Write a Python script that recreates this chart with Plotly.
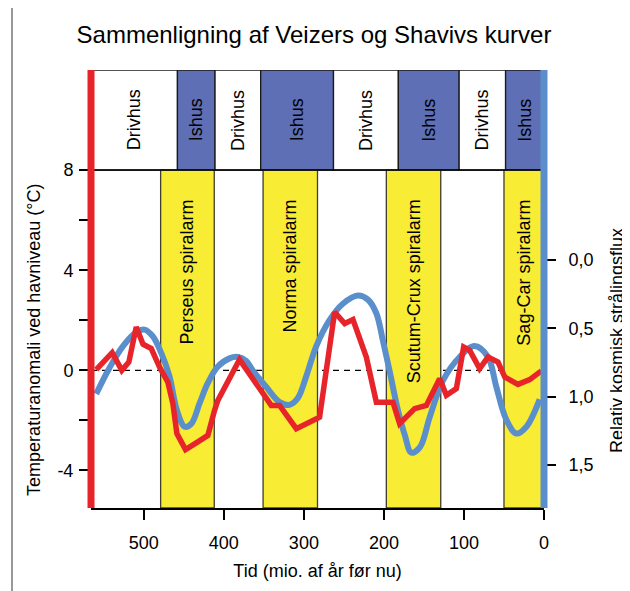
import plotly.graph_objects as go

# ---------------- data ----------------
# Temperature anomaly (Veizer), degrees C, vs time (Myr before present)
red_t = [559.5, 539.5, 527.5, 518.7, 509.5, 501, 490.7, 480.4, 470, 463.7, 458.7, 447.9,
         434.5, 420, 411.6, 407.5, 380.4, 340.8, 330.4, 309.5, 280.4, 261.6, 249, 238.7,
         222, 209.5, 188.7, 180.4, 161.6, 147, 130.4, 122, 109.5, 100.4, 92.9, 80.4, 70,
         57.5, 49, 32.5, 17.9, 3.3]
red_T = [0.03, 0.71, 0.0, 0.33, 1.73, 1.04, 0.87, 0.13, -0.47, -1.33, -2.53, -3.17,
         -2.9, -2.6, -1.6, -1.2, 0.43, -1.4, -1.4, -2.33, -1.87, 2.33, 1.87, 2.03,
         0.53, -1.27, -1.27, -2.13, -1.53, -1.4, -0.33, -1.0, -0.73, 0.93, 0.8, 0.07, 0.53,
         0.33, -0.27, -0.56, -0.37, -0.02]

# Relative cosmic ray flux (Shaviv), reversed right axis
blue_t = [559.5, 543, 526, 509.5, 499, 488.7, 478.3, 468, 458.7, 449, 440.8, 430.4, 420,
          407.5, 393, 382.5, 372, 363.8, 347, 330.4, 318, 307.5, 297, 284.5, 268, 251.3,
          232.5, 220, 209.5, 201.3, 193, 182.5, 174, 165.7, 155, 142.8, 126, 105.4, 86.7,
          70, 59.5, 47, 34.5, 22, 5.4]
blue_f = [0.98, 0.79, 0.63, 0.53, 0.51, 0.56, 0.68, 0.85, 1.10, 1.22, 1.20, 1.05, 0.90,
          0.78, 0.72, 0.71, 0.74, 0.81, 0.93, 1.04, 1.06, 1.01, 0.85, 0.63, 0.44, 0.32,
          0.26, 0.29, 0.39, 0.59, 0.81, 1.10, 1.28, 1.41, 1.37, 1.15, 0.88, 0.71, 0.63,
          0.71, 0.93, 1.17, 1.27, 1.22, 1.02]

# Climate state bands (start, end in Myr) and labels
climate_start = [566, 458, 411, 354, 263, 182, 106, 48]
climate_end = [458, 411, 354, 263, 182, 106, 48, 0]
climate_label = ["Drivhus", "Ishus", "Drivhus", "Ishus", "Drivhus", "Ishus", "Drivhus", "Ishus"]

# Spiral arm crossings
arm_start = [479, 351, 197, 50]
arm_end = [412, 283, 129, 0]
arm_label = ["Perseus spiralarm", "Norma spiralarm", "Scutum-Crux spiralarm", "Sag-Car spiralarm"]

x_ticks = [500, 400, 300, 200, 100, 0]
t_ticks = [8, 6, 4, 2, 0, -2, -4]
t_ticktext = ["8", "", "4", "", "0", "", "-4"]
f_ticks = [0.0, 0.5, 1.0, 1.5]
f_ticktext = ["0,0", "0,5", "1,0", "1,5"]

RED = "#E8242B"
BLUE = "#5B8FCB"
ICE = "#5E6FB5"
YELLOW = "#F8EC34"
FONT = "Liberation Sans, Arial, Helvetica, sans-serif"

# page body adds an 8px margin at left/top
OFF = 8
W, H = 630 - OFF, 591 - OFF

fig = go.Figure()

# flux on primary y (right), temperature on y2 (left, drawn on top)
fig.add_trace(go.Scatter(x=blue_t, y=blue_f, yaxis="y", mode="lines",
                         line=dict(color=BLUE, width=6, shape="spline", smoothing=1.0),
                         hoverinfo="skip", showlegend=False))
fig.add_trace(go.Scatter(x=red_t, y=red_T, yaxis="y2", mode="lines",
                         line=dict(color=RED, width=5.5),
                         hoverinfo="skip", showlegend=False))

shapes = []
annotations = []

# climate bands on top
for s, e, lab in zip(climate_start, climate_end, climate_label):
    shapes.append(dict(type="rect", xref="x", yref="y2", x0=s, x1=e, y0=8, y1=12,
                       fillcolor=ICE if lab == "Ishus" else "white",
                       line=dict(color="#1a1a1a", width=1.3), layer="below"))
    annotations.append(dict(x=(s + e) / 2, y=10, xref="x", yref="y2", text=lab,
                            textangle=-90, showarrow=False,
                            font=dict(size=18, color="black", family=FONT)))

# spiral arm bands
for s, e, lab in zip(arm_start, arm_end, arm_label):
    shapes.append(dict(type="rect", xref="x", yref="y2", x0=s, x1=e, y0=-5.5, y1=8,
                       fillcolor=YELLOW, line=dict(color="#3d3d30", width=1.3), layer="below"))
    annotations.append(dict(x=(s + e) / 2, y=6.9, xref="x", yref="y2", text=lab,
                            textangle=-90, showarrow=False, yanchor="top",
                            font=dict(size=18, color="black", family=FONT)))

# zero dashed line
shapes.append(dict(type="line", xref="paper", yref="y2", x0=0, x1=1, y0=0, y1=0,
                   line=dict(color="black", width=1.2, dash="6px,5px"), layer="below"))
# line at 8
shapes.append(dict(type="line", xref="paper", yref="y2", x0=0, x1=1, y0=8, y1=8,
                   line=dict(color="black", width=1.5), layer="above"))

# coloured axis bars
shapes.append(dict(type="line", xref="paper", yref="paper", x0=0, x1=0, y0=0, y1=1,
                   line=dict(color=RED, width=7), layer="above"))
shapes.append(dict(type="line", xref="paper", yref="paper", x0=1, x1=1, y0=0, y1=1,
                   line=dict(color=BLUE, width=7), layer="above"))

# left frame line
shapes.append(dict(type="line", xref="paper", yref="paper", x0=-0.1744, x1=-0.1744,
                   y0=-0.19, y1=1.16, line=dict(color="#555555", width=1.2)))

# axis titles
annotations.append(dict(x=-0.126, y=0.3836, xref="paper", yref="paper",
                        xanchor="center", yanchor="middle",
                        text="Temperaturanomali ved havniveau (°C)", textangle=-90,
                        showarrow=False, font=dict(size=18, color="black", family=FONT)))
annotations.append(dict(x=1.1611, y=0.3836, xref="paper", yref="paper",
                        xanchor="center", yanchor="middle",
                        text="Relativ kosmisk strålingsflux", textangle=-90,
                        showarrow=False, font=dict(size=18, color="black", family=FONT)))

fig.update_layout(
    width=W, height=H,
    margin=dict(l=91 - OFF, r=W - (544 - OFF), t=70 - OFF, b=H - (508 - OFF),
                autoexpand=False),
    paper_bgcolor="white", plot_bgcolor="white",
    font=dict(family=FONT, size=18, color="black"),
    title=dict(text="Sammenligning af Veizers og Shavivs kurver", x=(314 - OFF) / W,
               xanchor="center", y=1 - (35 - OFF) / H, yanchor="middle",
               font=dict(size=24, family=FONT)),
    xaxis=dict(range=[566, 0], tickvals=x_ticks, ticks="outside", ticklen=10, tickwidth=1.5,
               tickcolor="black", showline=True, linecolor="black", linewidth=1.5,
               showgrid=False, zeroline=False, ticklabelstandoff=8, automargin=False,
               title=dict(text="Tid (mio. af år før nu)", standoff=12,
                          font=dict(size=18, family=FONT))),
    yaxis=dict(range=[1.815, -1.39], side="right", tickvals=f_ticks, ticktext=f_ticktext,
               ticks="outside", ticklen=11, tickwidth=1.5, tickcolor="black",
               showgrid=False, zeroline=False, showline=False, ticklabelstandoff=9,
               automargin=False),
    yaxis2=dict(range=[-5.5, 12], side="left", overlaying="y", tickvals=t_ticks,
                ticktext=t_ticktext, ticks="outside", ticklen=11, tickwidth=1.5,
                tickcolor="black", showgrid=False, zeroline=False, showline=False,
                ticklabelstandoff=2, automargin=False),
    shapes=shapes,
    annotations=annotations,
)

fig.write_html("out.html")
